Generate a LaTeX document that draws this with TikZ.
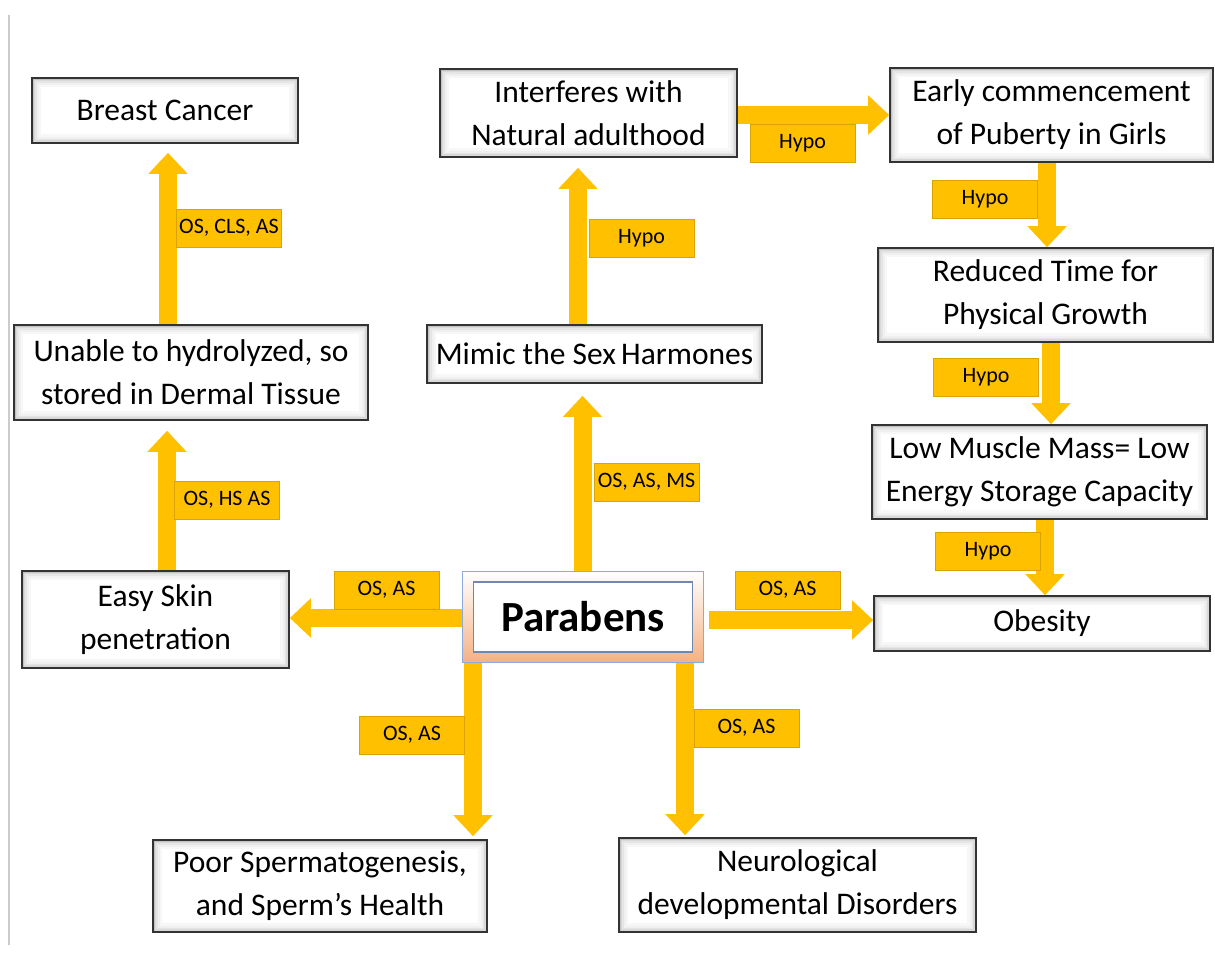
\documentclass[tikz,border=0pt]{standalone}
\usepackage{fontspec}
\setmainfont{Carlito}
\usetikzlibrary{arrows.meta}
\definecolor{amber}{HTML}{FFC000}
\definecolor{amberedge}{HTML}{D9A400}
\definecolor{peach}{HTML}{F4B183}
\definecolor{frameblue}{HTML}{8EA9DB}
\newcommand{\boxfont}{\fontsize{31.5}{43}\selectfont}
\newcommand{\tagfont}{\fontsize{22}{26}\selectfont}
\newcommand{\parfont}{\bfseries\fontsize{43}{48}\selectfont}

\begin{document}
\begin{tikzpicture}[x=1pt,y=-1pt,
    dims/.style 2 args={minimum width=#1pt, minimum height=#2pt},
    box/.style={draw=black!80, line width=1.6pt, fill=white, align=center, font=\boxfont, inner sep=0pt,
      path picture={
        \foreach \w/\c in {18/3,13/6,9/10,6/15,3/24}
          \draw[black!\c,line width=\w pt] (path picture bounding box.south west) rectangle (path picture bounding box.north east);}},
    tag/.style={draw=amberedge, fill=amber, line width=0.8pt, dims={105}{38}, font=\tagfont, inner sep=0pt},
    flow/.style={draw=amber, line width=18pt, -{Triangle[width=38pt,length=21pt]}}]
  \useasboundingbox (0,0) rectangle (1215,959);
  \draw[black!20, line width=1.5pt] (9,15) -- (9,945);

  % boxes
  \node[box, dims={266}{65}] (breast) at (165,110.5) {Breast Cancer};
  \node[box, dims={354}{95}] (unable) at (191,372.5) {Unable to hydrolyzed, so\\stored in Dermal Tissue};
  \node[box, dims={267}{97}] (easy) at (155.5,619.5) {Easy Skin\\penetration};
  \node[box, dims={297}{88}] (interf) at (588.5,113) {Interferes with\\Natural adulthood};
  \node[box, dims={335}{58}] (mimic) at (594.5,354) {Mimic the Sex\,Harmones};
  \node[box, dims={323}{94}] (early) at (1051.5,115) {Early commencement\\of Puberty in Girls};
  \node[box, dims={335}{94}] (reduced) at (1045.5,295) {Reduced Time for\\Physical Growth};
  \node[box, dims={335}{94}] (lowmass) at (1039.5,472) {Low Muscle Mass= Low\\Energy Storage Capacity};
  \node[box, dims={336}{55}] (obesity) at (1042,623.5) {Obesity};
  \node[box, dims={334}{92}] (poor) at (320,886) {Poor Spermatogenesis,\\and Sperm’s Health};
  \node[box, dims={357}{94}] (neuro) at (797.5,885) {Neurological\\developmental Disorders};

  \node[draw=frameblue, line width=1pt, top color=white, bottom color=peach, dims={241}{91}] (parabens) at (582.5,617) {};
  \node[draw=frameblue!80!black, fill=white, line width=1.2pt, dims={219}{70}, font=\parfont] (parinner) at (583,617) {Parabens};

  % arrows
  \draw[flow, shorten >=9pt] ([xshift=-23pt]unable.north) -- ([xshift=-23pt]unable.north |- breast.south);
  \draw[flow, shorten >=10pt] ([xshift=11.5pt]easy.north) -- ([xshift=11.5pt]easy.north |- unable.south);
  \draw[flow, shorten >=12pt] (parabens.north) -- (parabens.north |- mimic.south);
  \draw[flow, shorten >=10pt] ([xshift=-16.5pt]mimic.north) -- ([xshift=-16.5pt]mimic.north |- interf.south);
  \draw[flow] ([yshift=-2pt]interf.east) -- ([yshift=-2pt]interf.east -| early.west);
  \draw[flow] ([xshift=-4.5pt]early.south) -- ([xshift=-4.5pt]early.south |- reduced.north);
  \draw[flow] ([xshift=5.5pt]reduced.south) -- ([xshift=5.5pt]reduced.south |- lowmass.north);
  \draw[flow] ([xshift=5.5pt]lowmass.south) -- ([xshift=5.5pt]lowmass.south |- obesity.north);
  \draw[flow] ([xshift=5pt,yshift=-3pt]parabens.east) -- ([yshift=-3pt]parabens.east -| obesity.west);
  \draw[flow] ([yshift=-1pt]parabens.west) -- ([yshift=-1pt]parabens.west -| easy.east);
  \draw[flow, shorten >=3pt] ([xshift=-109.5pt]parabens.south) -- ([xshift=-109.5pt]parabens.south |- poor.north);
  \draw[flow, shorten >=2pt] ([xshift=102.5pt]parabens.south) -- ([xshift=102.5pt]parabens.south |- neuro.north);

  % labels
  \node[tag] (tcls) at (229,228) {OS, CLS, AS};
  \node[tag] (ths) at (227,500) {OS, HS AS};
  \node[tag] (tms) at (646.5,482) {OS, AS, MS};
  \node[tag] (thypoa) at (641.5,238) {Hypo};
  \node[tag] (thypob) at (802.5,143.5) {Hypo};
  \node[tag] (thypoc) at (985,199.5) {Hypo};
  \node[tag] (thypod) at (986,377.5) {Hypo};
  \node[tag] (thypoe) at (988,551.5) {Hypo};
  \node[tag] (tleft) at (386.5,590) {OS, AS};
  \node[tag] (tright) at (787.5,590) {OS, AS};
  \node[tag] (tpoor) at (412,735) {OS, AS};
  \node[tag] (tneuro) at (746.5,728) {OS, AS};
\end{tikzpicture}
\end{document}
